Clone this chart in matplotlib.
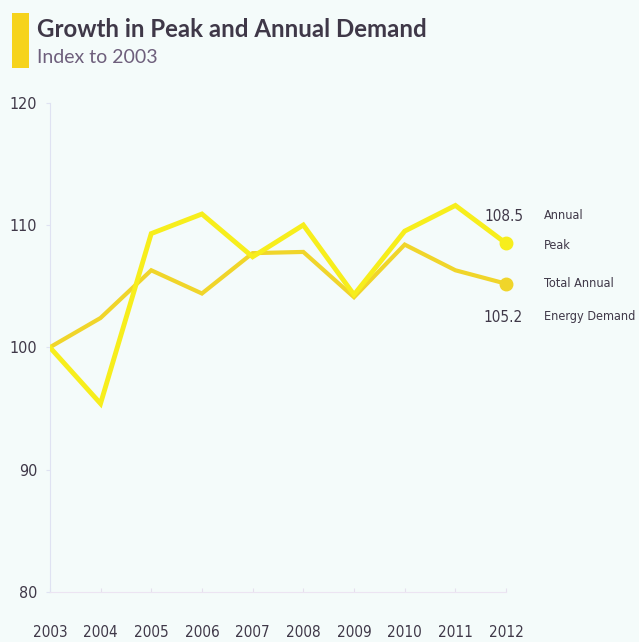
import matplotlib.pyplot as plt
from matplotlib.patches import Rectangle

years = [2003, 2004, 2005, 2006, 2007, 2008, 2009, 2010, 2011, 2012]
peak = [100, 95.4, 109.3, 110.9, 107.4, 110.0, 104.3, 109.5, 111.6, 108.5]
energy = [100, 102.4, 106.3, 104.4, 107.7, 107.8, 104.1, 108.4, 106.3, 105.2]
yticks = [80, 90, 100, 110, 120]

bg = '#f4fbfa'
peak_col = '#f7ee1c'
energy_col = '#f0d52a'
text_col = '#3f3848'
narrow = dict(family='DejaVu Sans', stretch='condensed')

fig = plt.figure(figsize=(6.39, 6.42), dpi=100, facecolor=bg)
ax = fig.add_axes([0.078, 0.078, 0.714, 0.762])
ax.set_facecolor(bg)

ax.plot(years, energy, color=energy_col, lw=3, solid_joinstyle='miter', zorder=2)
ax.plot(years, peak, color=peak_col, lw=3.5, solid_joinstyle='miter', zorder=3)
ax.plot(years[-1], peak[-1], 'o', color=peak_col, ms=9, zorder=4, clip_on=False)
ax.plot(years[-1], energy[-1], 'o', color=energy_col, ms=9, zorder=4, clip_on=False)

ax.set_xlim(2003, 2012)
ax.set_ylim(80, 120)
for s in ['top', 'right']:
    ax.spines[s].set_visible(False)
ax.spines['left'].set_color('#dfe2f2')
ax.spines['bottom'].set_color('#ece4f2')

ax.set_xticks(years)
ax.set_xticklabels([str(y) for y in years], fontsize=11, color=text_col, **narrow)
ax.set_yticks(yticks)
ax.set_yticklabels([str(v) for v in yticks], fontsize=11.5, color=text_col, **narrow)
ax.tick_params(axis='x', length=3, color='#e6e0ee', pad=24, direction='in')
ax.tick_params(axis='y', length=3, color='#dfe2f2', pad=6)

# labels at the line ends
ax.text(2011.95, peak[-1] + 2.2, '108.5', fontsize=11, color=text_col,
        ha='center', va='center', **narrow)
ax.text(2011.95, energy[-1] - 2.8, '105.2', fontsize=11, color=text_col,
        ha='center', va='center', **narrow)
side = [('Annual', peak[-1] + 2.3), ('Peak', peak[-1] - 0.2),
        ('Total Annual', energy[-1]), ('Energy Demand', energy[-1] - 2.7)]
for txt, yv in side:
    ax.text(2012.75, yv, txt, fontsize=9.1, color=text_col, va='center',
            clip_on=False, **narrow)

# header
fig.patches.append(Rectangle((12 / 639, 1 - 68 / 642), 17 / 639, 55 / 642,
                             transform=fig.transFigure, color='#f6d31c', lw=0))
fig.text(37 / 639, 1 - 37 / 642, 'Growth in Peak and Annual Demand', family=['Lato', 'DejaVu Sans'],
         fontweight='bold', fontsize=17.3, color=text_col, va='baseline')
fig.text(37 / 639, 1 - 63 / 642, 'Index to 2003', family=['Lato', 'DejaVu Sans'],
         fontsize=14, color='#6e5f7c', va='baseline')

fig.savefig('out.png', dpi=100, facecolor=bg)
